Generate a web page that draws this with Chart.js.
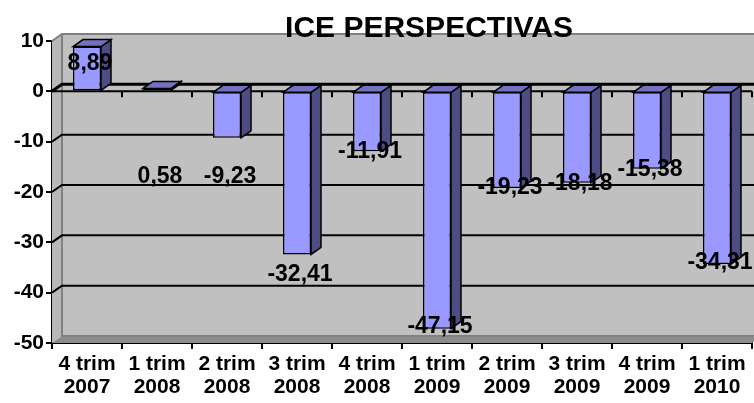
<!DOCTYPE html>
<html>
<head>
<meta charset="utf-8">
<script src="https://cdn.jsdelivr.net/npm/chart.js@4/dist/chart.umd.min.js"></script>
<style>
  html, body { margin: 0; padding: 0; background: #fff; }
  #wrap { width: 754px; height: 403px; }
</style>
</head>
<body>
<div id="wrap"><canvas id="iceChart" width="754" height="403"></canvas></div>
<script>
const quarters = ["4 trim", "1 trim", "2 trim", "3 trim", "4 trim", "1 trim", "2 trim", "3 trim", "4 trim", "1 trim"];
const years = ["2007", "2008", "2008", "2008", "2008", "2009", "2009", "2009", "2009", "2010"];
const iceValues = [8.89, 0.58, -9.23, -32.41, -11.91, -47.15, -19.23, -18.18, -15.38, -34.31];
const yTicks = [10, 0, -10, -20, -30, -40, -50];

const labels = quarters.map((q, i) => [q, years[i]]);

// 3d look
const DX = 10, DY = 7;
const FONT = "'Liberation Sans', Arial, sans-serif";

function poly(ctx, pts, fill, stroke, lw) {
  ctx.beginPath();
  ctx.moveTo(pts[0][0], pts[0][1]);
  for (let i = 1; i < pts.length; i++) ctx.lineTo(pts[i][0], pts[i][1]);
  ctx.closePath();
  if (fill) { ctx.fillStyle = fill; ctx.fill(); }
  if (stroke) { ctx.strokeStyle = stroke; ctx.lineWidth = lw || 1; ctx.stroke(); }
}

const wall3d = {
  id: "wall3d",
  beforeDatasetsDraw(chart) {
    const { ctx, chartArea: a, scales: { y } } = chart;
    ctx.save();
    ctx.fillStyle = "#c0c0c0";
    ctx.fillRect(a.left + DX, a.top - DY, a.right - a.left, a.bottom - a.top);
    poly(ctx, [[a.left, a.top], [a.left + DX, a.top - DY], [a.left + DX, a.bottom - DY], [a.left, a.bottom]], "#b8b8b8");
    poly(ctx, [[a.left, a.bottom], [a.left + DX, a.bottom - DY], [a.right + DX, a.bottom - DY], [a.right, a.bottom]], "#8c8c8c");

    // wall edges
    ctx.strokeStyle = "#808080";
    ctx.lineWidth = 2;
    ctx.beginPath();
    ctx.moveTo(a.left, a.top);
    ctx.lineTo(a.left + DX, a.top - DY);
    ctx.lineTo(a.right + DX, a.top - DY);
    ctx.moveTo(a.left + DX, a.top - DY);
    ctx.lineTo(a.left + DX, a.bottom - DY);
    ctx.lineTo(a.right + DX, a.bottom - DY);
    ctx.stroke();

    // gridlines on the wall
    ctx.strokeStyle = "#000";
    yTicks.forEach(v => {
      if (v === 10 || v === -50) return;
      const py = y.getPixelForValue(v);
      ctx.lineWidth = v === 0 ? 3 : 2;
      ctx.beginPath();
      ctx.moveTo(a.left, py);
      ctx.lineTo(a.left + DX, py - DY);
      ctx.lineTo(a.right + DX, py - DY);
      ctx.stroke();
    });

    // front edge of the zero plane + ticks
    const y0 = y.getPixelForValue(0);
    ctx.lineWidth = 2;
    ctx.beginPath();
    ctx.moveTo(a.left, y0);
    ctx.lineTo(a.right, y0);
    for (let i = 1; i <= quarters.length; i++) {
      const px = a.left + (a.right - a.left) * i / quarters.length;
      ctx.moveTo(px, y0);
      ctx.lineTo(px, y0 + 6);
    }
    ctx.stroke();
    ctx.restore();
  },
  afterDatasetsDraw(chart, args, opts) {
    const { ctx } = chart;
    ctx.save();
    ctx.lineJoin = "miter";
    chart.getDatasetMeta(0).data.forEach(bar => {
      const l = bar.x - bar.width / 2, r = bar.x + bar.width / 2;
      const t = Math.min(bar.y, bar.base), b = Math.max(bar.y, bar.base);
      poly(ctx, [[r, t], [r + DX, t - DY], [r + DX, b - DY], [r, b]], "#4d4d84", "#000", 1.5);
      poly(ctx, [[l, t], [l + DX, t - DY], [r + DX, t - DY], [r, t]], "#7272c0", "#000", 1.5);
    });

    // value labels
    ctx.fillStyle = "#000";
    ctx.font = "bold 23px " + FONT;
    ctx.textAlign = "center";
    ctx.textBaseline = "middle";
    chart.getDatasetMeta(0).data.forEach((bar, i) => {
      const txt = iceValues[i].toFixed(2).replace(".", ",");
      ctx.fillText(txt, bar.x + 3, bar.y + (opts.nudge[i] || 0));
    });
    ctx.restore();
  },
  afterDraw(chart) {
    const { ctx } = chart;
    ctx.save();
    ctx.fillStyle = "#000";
    ctx.font = "bold 30px " + FONT;
    ctx.textAlign = "center";
    ctx.textBaseline = "alphabetic";
    ctx.fillText("ICE PERSPECTIVAS", 429, 37);
    ctx.restore();
  }
};

new Chart(document.getElementById("iceChart"), {
  type: "bar",
  data: {
    labels,
    datasets: [{
      data: iceValues,
      backgroundColor: "#9999ff",
      borderColor: "#000",
      borderWidth: 1.5,
      borderSkipped: false,
      barPercentage: 0.4,
      categoryPercentage: 1
    }]
  },
  options: {
    responsive: false,
    animation: false,
    layout: { padding: { top: 41, right: 2, left: 0, bottom: 0 } },
    plugins: {
      legend: { display: false },
      tooltip: { enabled: false },
      wall3d: { nudge: [17, 88, 39, 20, 0, -2, 0, 1, 1, -1] }
    },
    scales: {
      x: {
        afterFit: s => { s.height = 60; },
        grid: { display: true, drawOnChartArea: false, drawTicks: true, tickLength: 6, color: "#000", lineWidth: 2, offset: true },
        border: { display: true, color: "#000", width: 2 },
        ticks: { color: "#000", font: { family: FONT, size: 21, weight: "bold", lineHeight: 1.1 }, padding: 4, maxRotation: 0, autoSkip: false }
      },
      y: {
        min: -50,
        max: 10,
        afterFit: s => { s.width = 52; },
        afterBuildTicks: s => { s.ticks = yTicks.map(v => ({ value: v })); },
        grid: { display: true, drawOnChartArea: false, drawTicks: true, tickLength: 6, color: "#000", lineWidth: 2 },
        border: { display: true, color: "#000", width: 2 },
        ticks: { color: "#000", font: { family: FONT, size: 21, weight: "bold" }, padding: 2 }
      }
    }
  },
  plugins: [wall3d]
});
</script>
</body>
</html>
